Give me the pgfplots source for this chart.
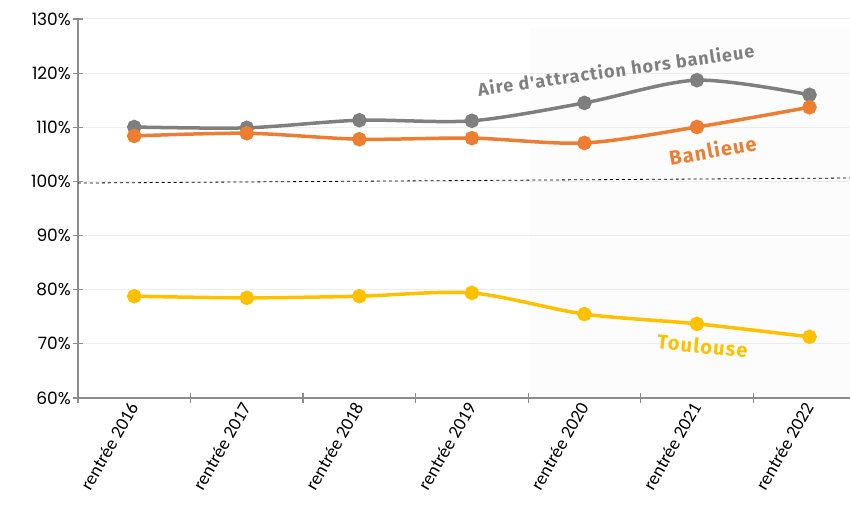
\documentclass[border=0pt]{standalone}
\usepackage{pgfplots}
\pgfplotsset{compat=1.18}
\usepackage{fontspec}
\setmainfont{Carlito}
\newfontfamily\ticfont{Poppins}
\newfontfamily\labfont[LetterSpace=6]{Fira Sans}
\definecolor{cgray}{HTML}{7F7F7F}
\definecolor{corange}{HTML}{ED7D31}
\definecolor{cyellow}{HTML}{FFC000}
\definecolor{axgray}{HTML}{8C8C8C}
\definecolor{gridc}{HTML}{EFEFEF}
\begin{document}
\begin{tikzpicture}
\begin{axis}[
  scale only axis, width=772bp, height=379bp,
  xmin=-0.5, xmax=6.36, ymin=60, ymax=130,
  axis x line=bottom, axis y line=left,
  axis line style={draw=axgray, line width=1.6bp, -},
  ytick={60,70,...,130},
  /pgf/number format/assume math mode=true,
  yticklabel={\ticfont\fontsize{17bp}{17bp}\selectfont\pgfmathprintnumber{\tick}\%},
  ymajorgrids, grid style={draw=gridc, line width=1bp},
  y tick style={draw=axgray, line width=1.2bp},
  tick align=center, major tick length=10bp,
  xtick={0,...,6},
  xticklabels={rentrée 2016,rentrée 2017,rentrée 2018,rentrée 2019,rentrée 2020,rentrée 2021,rentrée 2022},
  x tick label style={rotate=60, anchor=east, font=\fontsize{18.5bp}{18.5bp}\selectfont, inner sep=1bp},
  x tick style={draw=none},
  extra x ticks={-0.5,0.5,1.5,2.5,3.5,4.5,5.5},
  extra x tick labels={},
  extra x tick style={grid=none, x tick style={draw=axgray, line width=1.2bp}},
  yticklabel style={inner sep=2bp},
  clip=false,
]
\coordinate (bl) at (rel axis cs:0,0);
\coordinate (tr) at (rel axis cs:1,1);
\addplot[draw=none, fill=black, fill opacity=0.013] coordinates {(3.52,60) (3.52,128.3) (6.36,128.3) (6.36,60)} --cycle;
\addplot[black, dashed, line width=0.8bp] coordinates {(-0.5,99.7) (6.36,100.63)};
\addplot[cgray, line width=3.5bp, smooth, mark=*, mark size=5.5bp, mark options={solid}] coordinates {
(0,110.05) (1,109.9) (2,111.3) (3,111.2) (4,114.5) (5,118.7) (6,116.0)};
\addplot[corange, line width=3.5bp, smooth, mark=*, mark size=5.5bp] coordinates {
(0,108.4) (1,108.9) (2,107.8) (3,108.0) (4,107.1) (5,110.05) (6,113.7)};
\addplot[cyellow, line width=3.5bp, smooth, mark=*, mark size=5.5bp] coordinates {
(0,78.8) (1,78.5) (2,78.8) (3,79.4) (4,75.5) (5,73.7) (6,71.3)};
\node[rotate=8, text=cgray, font=\labfont\bfseries\fontsize{18bp}{18bp}\selectfont] at (axis cs:4.28,120.6) {Aire d'attraction hors banlieue};
\node[rotate=10, text=corange, font=\labfont\bfseries\fontsize{20bp}{20bp}\selectfont] at (axis cs:5.14,105.8) {Banlieue};
\node[rotate=-6, text=cyellow, font=\labfont\bfseries\fontsize{20bp}{20bp}\selectfont] at (axis cs:5.05,69.6) {Toulouse};
\end{axis}
\pgfresetboundingbox
\path[use as bounding box] ([xshift=-78bp,yshift=-109bp]bl) rectangle ([yshift=19bp]tr);
\end{tikzpicture}
\end{document}
